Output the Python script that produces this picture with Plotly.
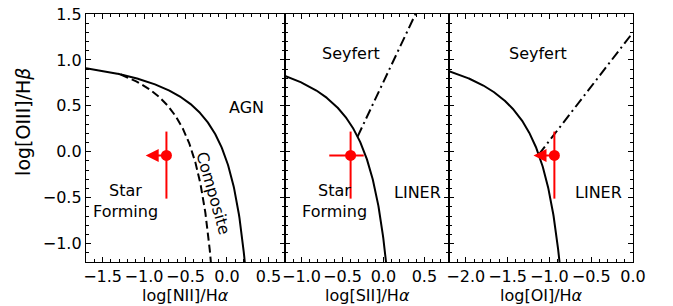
import numpy as np
import plotly.graph_objects as go

# ---------------- data ----------------
x_titles = ["log[NII]/H<i>α</i>", "log[SII]/H<i>α</i>", "log[OI]/H<i>α</i>"]
y_title = "log[OIII]/H<i>β</i>"
x_ranges = [[-1.7, 0.7], [-1.2, 0.8], [-2.2, 0.0]]
y_range = [-1.2, 1.5]
x_tickvals = [[-1.5, -1.0, -0.5, 0.0, 0.5], [-1.0, -0.5, 0.0, 0.5], [-2.0, -1.5, -1.0, -0.5, 0.0]]
y_tickvals = [-1.0, -0.5, 0.0, 0.5, 1.0, 1.5]

# Kewley+2001 maximum starburst lines: y = a / (x - b) + c
kewley_a = [0.61, 0.72, 0.73]
kewley_b = [0.47, 0.32, -0.59]
kewley_c = [1.19, 1.30, 1.33]
# Kauffmann+2003 line (NII panel): y = a / (x - b) + c
kauff_a, kauff_b, kauff_c = 0.61, 0.05, 1.30
# Kewley+2006 Seyfert/LINER lines (SII, OI panels): y = m x + k
sey_m = [None, 1.89, 1.18]
sey_k = [None, 0.76, 1.30]

# measured source (red point)
src_x = [-0.73, -0.40, -0.94]
src_y = [-0.04, -0.04, -0.04]
src_yerr_plus = [0.26, 0.26, 0.26]
src_yerr_minus = [0.47, 0.47, 0.47]
src_xerr_plus = [0.0, 0.16, 0.0]
src_xerr_minus = [0.0, 0.26, 0.0]
src_upper_limit = [True, False, True]
arrow_len = [0.25, 0.0, 0.25]

region_labels = [
    [("AGN", 0.23, 0.48, 0), ("Composite", -0.16, -0.45, 74), ("Star<br>Forming", -1.22, -0.54, 0)],
    [("Seyfert", -0.39, 1.07, 0), ("LINER", 0.41, -0.44, 0), ("Star<br>Forming", -0.60, -0.54, 0)],
    [("Seyfert", -1.14, 1.07, 0), ("LINER", -0.41, -0.44, 0)],
]

# ---------------- figure ----------------
# the page body adds an 8px margin; the figure is sized to fit the window
PAGE = 8
W, H = 673 - PAGE, 306 - PAGE
ML, MR, MT = 86 - PAGE, 40, 14 - PAGE
PLOT_H = 248
MB = H - MT - PLOT_H
inner = W - ML - MR
borders = [0, 199, 363, inner]
domains = [[borders[i] / inner, borders[i + 1] / inner] for i in range(3)]

FONT = "DejaVu Sans"
FS = 16
fig = go.Figure()


def kcurve(a, b, c, x):
    return a / (x - b) + c


def fmt(v):
    s = f"{abs(v):.1f}"
    return ("−" + s) if v < 0 else s


for i in range(3):
    xa = "x" if i == 0 else f"x{i+1}"
    ya = "y" if i == 0 else f"y{i+1}"
    a, b, c = kewley_a[i], kewley_b[i], kewley_c[i]
    x_end = b + a / (y_range[0] - c)
    xs = np.linspace(x_ranges[i][0], x_end, 300)
    fig.add_trace(go.Scatter(x=xs, y=kcurve(a, b, c, xs), mode="lines",
                             line=dict(color="black", width=2), xaxis=xa, yaxis=ya,
                             showlegend=False, hoverinfo="skip"))
    if i == 0:
        # intersection of Kauffmann and Kewley
        p = np.polymul([1, -kauff_b], [1, -b]) * (kauff_c - c)
        p = np.polyadd(p, np.polyadd(np.array([kauff_a, -kauff_a * b]), np.array([-a, a * kauff_b])))
        roots = np.real(np.roots(p))
        x0 = roots[roots < kauff_b].max()
        x1 = kauff_b + kauff_a / (y_range[0] - kauff_c)
        xs2 = np.linspace(x0, x1, 300)
        fig.add_trace(go.Scatter(x=xs2, y=kcurve(kauff_a, kauff_b, kauff_c, xs2), mode="lines",
                                 line=dict(color="black", width=2, dash="8px,4px"),
                                 xaxis=xa, yaxis=ya, showlegend=False, hoverinfo="skip"))
    else:
        m, k = sey_m[i], sey_k[i]
        # (m x + k - c)(x - b) = a
        p = np.polysub(np.polymul([m, k - c], [1, -b]), [a])
        roots = np.real(np.roots(p))
        x0 = roots[roots < b].max()
        x1 = min((y_range[1] - k) / m, x_ranges[i][1])
        xs3 = np.array([x0, x1])
        fig.add_trace(go.Scatter(x=xs3, y=m * xs3 + k, mode="lines",
                                 line=dict(color="black", width=2, dash="10px,4px,2px,4px"),
                                 xaxis=xa, yaxis=ya, showlegend=False, hoverinfo="skip"))

    # red source point
    fig.add_trace(go.Scatter(
        x=[src_x[i]], y=[src_y[i]], mode="markers",
        marker=dict(color="red", size=11, line=dict(width=0)),
        error_y=dict(type="data", symmetric=False, array=[src_yerr_plus[i]],
                     arrayminus=[src_yerr_minus[i]], color="red", thickness=2, width=0),
        error_x=dict(type="data", symmetric=False, array=[src_xerr_plus[i]],
                     arrayminus=[src_xerr_minus[i]], color="red", thickness=2, width=0,
                     visible=not src_upper_limit[i]),
        xaxis=xa, yaxis=ya, showlegend=False, hoverinfo="skip"))
    if src_upper_limit[i]:
        fig.add_annotation(x=src_x[i] - arrow_len[i], y=src_y[i], ax=src_x[i], ay=src_y[i],
                           xref=xa, yref=ya, axref=xa, ayref=ya, text="", showarrow=True,
                           arrowhead=2, arrowsize=1.3, arrowwidth=2, arrowcolor="red")

    for (t, tx, ty, ang) in region_labels[i]:
        fig.add_annotation(x=tx, y=ty, xref=xa, yref=ya, text=t, showarrow=False,
                           textangle=ang, font=dict(family=FONT, size=FS, color="black"),
                           align="center")

    # axis title (x)
    fig.add_annotation(x=0.5, y=0, xref=f"{xa} domain", yref="paper", text=x_titles[i],
                       showarrow=False, yanchor="middle", yshift=-33,
                       font=dict(family=FONT, size=FS, color="black"))

    axis_common = dict(showline=True, linecolor="black", linewidth=1.3, mirror="ticks",
                       ticks="inside", ticklen=5, tickwidth=1.2, tickcolor="black",
                       showgrid=False, zeroline=False, automargin=False,
                       ticklabeloverflow="allow",
                       tickfont=dict(family=FONT, size=FS, color="black"))
    fig.update_layout(**{
        ("xaxis" if i == 0 else f"xaxis{i+1}"): dict(
            domain=domains[i], range=x_ranges[i], anchor=ya,
            tickvals=x_tickvals[i], ticktext=[fmt(v) for v in x_tickvals[i]],
            minor=dict(ticks="inside", ticklen=2.5, dtick=0.1, tick0=0, tickcolor="black", tickwidth=1),
            **axis_common),
        ("yaxis" if i == 0 else f"yaxis{i+1}"): dict(
            domain=[0, 1], range=y_range, anchor=xa,
            tickvals=y_tickvals, ticktext=[fmt(v) for v in y_tickvals],
            showticklabels=(i == 0),
            minor=dict(ticks="inside", ticklen=2.5, dtick=0.1, tick0=0, tickcolor="black", tickwidth=1),
            **axis_common),
    })

# axis title (y)
fig.add_annotation(x=0, y=0.565, xref="paper", yref="paper", text=y_title, showarrow=False,
                   textangle=-90, xanchor="center", yanchor="middle", xshift=-63,
                   font=dict(family=FONT, size=19, color="black"))

fig.update_layout(width=W, height=H, margin=dict(l=ML, r=MR, t=MT, b=MB),
                  plot_bgcolor="white", paper_bgcolor="white",
                  font=dict(family=FONT, size=FS, color="black"), showlegend=False)

fig.write_html("out.html")
